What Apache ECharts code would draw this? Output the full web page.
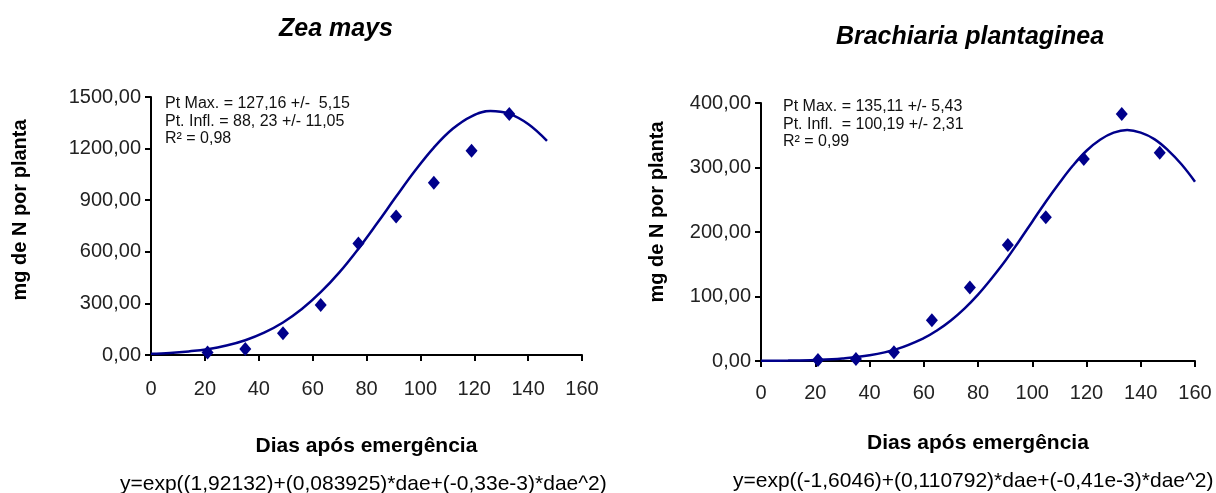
<!DOCTYPE html>
<html><head><meta charset="utf-8">
<script src="https://cdn.jsdelivr.net/npm/echarts@6/dist/echarts.min.js"></script>
<style>html,body{margin:0;padding:0;background:#fff}#c{width:1216px;height:493px}</style>
</head><body><div id="c"></div>
<script>
// ---- data ----
const xTicks = [0,20,40,60,80,100,120,140,160];
const zeaDays = [21,35,49,63,77,91,105,119,133];
const zeaObs = [15,35,127,290,648,805,1002,1187,1401];
const zeaCurveDays = [0,7,14,21,28,35,42,49,56,63,70,77,84,91,98,105,112,119,126,133,140,147];
const zeaCurve = [7,12,21,34,55,86,130,189,267,365,482,618,767,921,1071,1206,1315,1388,1418,1402,1343,1245];
const braDays = [21,35,49,63,77,91,105,119,133,147];
const braObs = [1.5,3,13.5,63,114,180,223,313,383,323];
const braCurveDays = [0,10,20,30,40,50,60,65,70,75,80,85,90,95,100,105,110,115,120,125,130,135,140,145,150,155,160];
const braCurve = [0.2,0.6,1.6,3.9,8.8,18.4,35.4,47.7,62.9,81.3,103,128,155,185,216,247,276,303,326,343,354,358,354,344,327,305,278];
const zeaYTicks = [0,300,600,900,1200,1500];
const braYTicks = [0,100,200,300,400];
const zeaStats = ['Pt Max. = 127,16 +/-  5,15','Pt. Infl. = 88, 23 +/- 11,05','R\u00b2 = 0,98'];
const braStats = ['Pt Max. = 135,11 +/- 5,43','Pt. Infl.  = 100,19 +/- 2,31','R\u00b2 = 0,99'];
const zeaEq = 'y=exp((1,92132)+(0,083925)*dae+(-0,33e-3)*dae^2)';
const braEq = 'y=exp((-1,6046)+(0,110792)*dae+(-0,41e-3)*dae^2)';
const yName = 'mg de N por planta';
const xName = 'Dias após emergência';

const FONT = 'Liberation Sans, Arial, sans-serif';
const NAVY = '#00008b';
const zip = (a,b)=>a.map((v,i)=>[v,b[i]]);
const fmt = v => v.toFixed(2).replace('.',',');

function xAx(i){return {gridIndex:i,type:'value',min:xTicks[0],max:xTicks[xTicks.length-1],interval:20,
  name:xName,nameLocation:'middle',nameGap:i?72:81,
  nameTextStyle:{fontFamily:FONT,fontWeight:'bold',fontSize:21,color:'#000'},
  axisLine:{onZero:false,lineStyle:{color:'#000',width:2}},axisTick:{show:true,length:6,lineStyle:{color:'#000',width:2}},
  axisLabel:{fontFamily:FONT,fontSize:20,color:'#222',margin:i?32:34,verticalAlign:'middle'},splitLine:{show:false}};}
function yAx(i,ticks){return {gridIndex:i,type:'value',min:ticks[0],max:ticks[ticks.length-1],interval:ticks[1]-ticks[0],
  axisLine:{show:true,lineStyle:{color:'#000',width:2}},axisTick:{show:true,length:6,lineStyle:{color:'#000',width:2}},
  axisLabel:{fontFamily:FONT,fontSize:20,color:'#222',margin:10,formatter:fmt},splitLine:{show:false}};}

function statText(lines,x,y){return lines.map((t,k)=>({type:'text',left:x,top:y+k*17.5,
  style:{text:t,fontFamily:FONT,fontSize:16,fill:'#111'}}));}
function yNameText(x,y){return {type:'text',x:x,y:y,rotation:Math.PI/2,
  style:{text:yName,fontFamily:FONT,fontWeight:'bold',fontSize:20,fill:'#000',align:'center',verticalAlign:'middle',textAlign:'center',textVerticalAlign:'middle'}};}

const chart = echarts.init(document.getElementById('c'),null,{renderer:'canvas'});
chart.setOption({
  animation:false,
  title:[
    {text:'Zea mays',left:331,top:12,textAlign:'center',textStyle:{fontFamily:FONT,fontSize:25,fontWeight:'bold',fontStyle:'italic',color:'#000'}},
    {text:'Brachiaria plantaginea',left:965,top:20,textAlign:'center',textStyle:{fontFamily:FONT,fontSize:25,fontWeight:'bold',fontStyle:'italic',color:'#000'}}
  ],
  grid:[
    {left:151,top:97,width:431,height:258},
    {left:761,top:103,width:434,height:258}
  ],
  xAxis:[xAx(0),xAx(1)],
  yAxis:[yAx(0,zeaYTicks),yAx(1,braYTicks)],
  series:[
    {type:'line',xAxisIndex:0,yAxisIndex:0,data:zip(zeaCurveDays,zeaCurve),smooth:0.4,showSymbol:false,lineStyle:{color:NAVY,width:2.5}},
    {type:'scatter',xAxisIndex:0,yAxisIndex:0,data:zip(zeaDays,zeaObs),symbol:'diamond',symbolSize:[12,14],itemStyle:{color:NAVY,opacity:1}},
    {type:'line',xAxisIndex:1,yAxisIndex:1,data:zip(braCurveDays,braCurve),smooth:0.4,showSymbol:false,lineStyle:{color:NAVY,width:2.5}},
    {type:'scatter',xAxisIndex:1,yAxisIndex:1,data:zip(braDays,braObs),symbol:'diamond',symbolSize:[12,14],itemStyle:{color:NAVY,opacity:1}}
  ],
  graphic:[
    ...statText(zeaStats,165,96),
    ...statText(braStats,783,99),
    yNameText(20,210),
    yNameText(657,212),
    {type:'text',left:120,top:474,style:{text:zeaEq,fontFamily:FONT,fontSize:21,fill:'#000'}},
    {type:'text',left:733,top:471,style:{text:braEq,fontFamily:FONT,fontSize:21,fill:'#000'}}
  ]
});
</script></body></html>
